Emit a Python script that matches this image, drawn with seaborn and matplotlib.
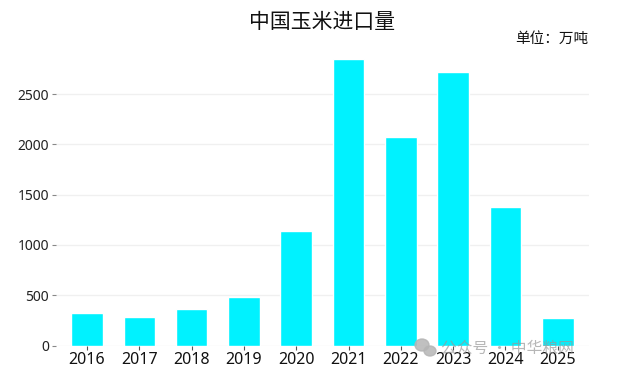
import matplotlib
matplotlib.use("Agg")
import matplotlib.pyplot as plt
from matplotlib.patches import Ellipse
import seaborn as sns
import pandas as pd

years = ["2016", "2017", "2018", "2019", "2020", "2021", "2022", "2023", "2024", "2025"]
imports = [320, 288, 358, 484, 1137, 2845, 2070, 2722, 1374, 270]
yticks = [0, 500, 1000, 1500, 2000, 2500]
title = "中国玉米进口量"
unit = "单位：万吨"
watermark = "公众号 · 中华粮网"

sns.set_theme(style="white")
plt.rcParams['font.family'] = ['Noto Sans CJK SC', 'DejaVu Sans']

W, H = 629, 386
fig = plt.figure(figsize=(W / 100, H / 100), dpi=100, facecolor="white")
top_px, bottom_px, left_px, right_px = 46, 345.5, 56, 589
ax = fig.add_axes([left_px / W, 1 - bottom_px / H, (right_px - left_px) / W, (bottom_px - top_px) / H])

df = pd.DataFrame({"year": years, "imports": imports})
sns.barplot(data=df, x="year", y="imports", color="#00F2FF", saturation=1, width=0.6, ax=ax, zorder=3)

ax.set_xlim(-0.59, 9.596)
ax.set_ylim(0, (bottom_px - top_px) / 0.1006)
ax.set_yticks(yticks)
ax.set_xlabel("")
ax.set_ylabel("")
ax.yaxis.grid(True, color="#F0F0F0", linewidth=1)
ax.set_axisbelow(True)
for s in ax.spines.values():
    s.set_visible(False)
ax.tick_params(axis="y", length=3, width=0.8, color="#888888", labelsize=10.5, labelcolor="#222222", pad=2, left=True)
ax.tick_params(axis="x", length=3, width=0.8, color="#555555", labelsize=12, labelcolor="#111111", pad=2, bottom=True)
for lab in ax.get_yticklabels():
    lab.set_fontfamily(["Noto Sans", "DejaVu Sans"])
    lab.set_fontsize(10)
for lab in ax.get_xticklabels():
    lab.set_fontfamily(["Noto Sans", "DejaVu Sans"])
    lab.set_fontsize(11.5)

fig.text(322.5 / W, 1 - 21.5 / H, title, ha="center", va="center", fontsize=15, color="#111111")
fig.text(588 / W, 1 - 39 / H, unit, ha="right", va="center", fontsize=10.5, color="#111111")

# faint watermark
fig.text(441 / W, 1 - 348.5 / H, watermark, ha="left", va="center", fontsize=11.3, color="#999999", alpha=0.7, zorder=5)
overlay = fig.add_axes([0, 0, 1, 1], facecolor="none")
overlay.set_xlim(0, W)
overlay.set_ylim(H, 0)
overlay.axis("off")
overlay.add_patch(Ellipse((422, 345), 14, 12, color="#B5B5B5", alpha=0.85))
overlay.add_patch(Ellipse((430, 351), 12, 10, color="#B5B5B5", alpha=0.85))

fig.savefig("out.png", dpi=100, facecolor="white")
